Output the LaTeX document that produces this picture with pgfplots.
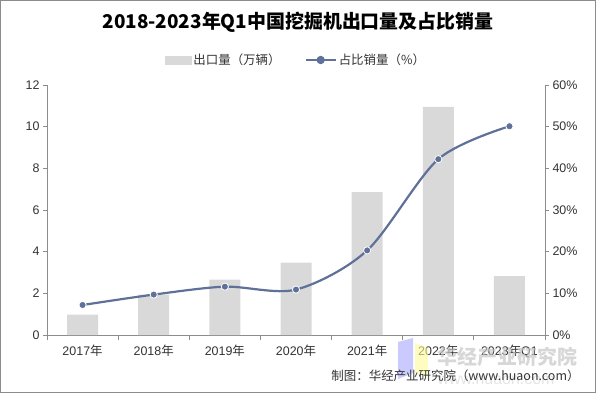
\documentclass[border=0pt]{standalone}
\usepackage{pgfplots}
\pgfplotsset{compat=1.18}
\usepackage{fontspec}
\setmainfont{Liberation Sans}
\newfontfamily\cjk{Noto Sans CJK SC}
\definecolor{barc}{HTML}{D9D9D9}
\definecolor{linec}{HTML}{5F7199}
\definecolor{axc}{HTML}{8C8C8C}
\definecolor{txtc}{HTML}{333333}
\begin{document}
\begin{tikzpicture}[x=1bp,y=1bp]
\path (0,0) rectangle (596,393);
\pgfplotsset{
  base/.style={scale only axis, width=498bp, height=250bp, at={(47bp,58bp)}, anchor=south west,
    xmin=-0.5, xmax=6.5,
    /pgf/number format/assume math mode=true,
    tick label style={font=\fontsize{12.5}{14}\selectfont, text=txtc},
    axis line style={axc, line width=0.8bp}, tick style={axc, line width=0.8bp},
    tick align=outside, major tick length=4bp,
  }
}
\begin{axis}[base, ymin=0, ymax=12, ytick={0,2,...,12},
  axis x line*=bottom, axis y line*=left,
  xtick={-0.5,0.5,1.5,2.5,3.5,4.5,5.5,6.5}, x tick label as interval,
  xticklabels={2017{\cjk 年},2018{\cjk 年},2019{\cjk 年},2020{\cjk 年},2021{\cjk 年},2022{\cjk 年},2023{\cjk 年}Q1},
  x tick label style={yshift=-2bp}, major x tick style={/pgfplots/major tick length=5bp},
]
\addplot[ybar, bar width=31bp, fill=barc, draw=none] coordinates {(0,0.98)(1,1.94)(2,2.66)(3,3.48)(4,6.86)(5,10.95)(6,2.83)};
\end{axis}
\begin{axis}[base, ymin=0, ymax=60, ytick={0,10,...,60},
  yticklabels={0\%,10\%,20\%,30\%,40\%,50\%,60\%},
  axis y line*=right, axis x line=none,
  legend style={at={(0.5,1.1)}, anchor=center, draw=none, fill=none, legend columns=2,
    font=\cjk\fontsize{12.5}{15}\selectfont, text=txtc,
    /tikz/every even column/.append style={column sep=22bp}},
]
\addlegendimage{legend image code/.code={\fill[barc] (0bp,-4bp) rectangle (26bp,4bp);}}
\addlegendentry{出口量（万辆）}
\addplot[linec, line width=2.2bp, smooth, mark=*, mark size=3.6bp,
  mark options={fill=linec, draw=white, line width=0.8bp},
  legend image code/.code={\draw[linec,line width=2.2bp] (0bp,0bp) -- (30bp,0bp); \fill[linec] (15bp,0bp) circle (3bp);}]
  coordinates {(0,7.2)(1,9.7)(2,11.6)(3,10.9)(4,20.3)(5,42.2)(6,50.1)};
\addlegendentry{占比销量（\%）}
\end{axis}
\node[font=\cjk\bfseries\fontsize{19}{22}\selectfont, text=black] at (298,371) {2018-2023年Q1中国挖掘机出口量及占比销量};
\fill[blue!35, opacity=0.6] (398,14) -- (413,20) -- (413,55) -- (398,51) -- cycle;
\fill[yellow!40, opacity=0.6] (415,20) -- (428,16) -- (428,45) -- (415,50) -- cycle;
\node[text=gray!45, opacity=0.7, font=\cjk\bfseries\fontsize{20}{22}\selectfont, anchor=west] at (434,36) {华经产业研究院};
\node[text=gray!30, opacity=0.7, font=\fontsize{16}{18}\selectfont, anchor=west] at (434,14) {www.huaon.com};
\node[anchor=east, font=\cjk\fontsize{12.5}{15}\selectfont, text=txtc] at (583,17) {制图：华经产业研究院（www.huaon.com）};
\draw[axc, line width=1bp] (0.5,0.5) rectangle (595.5,392.5);
\end{tikzpicture}
\end{document}
